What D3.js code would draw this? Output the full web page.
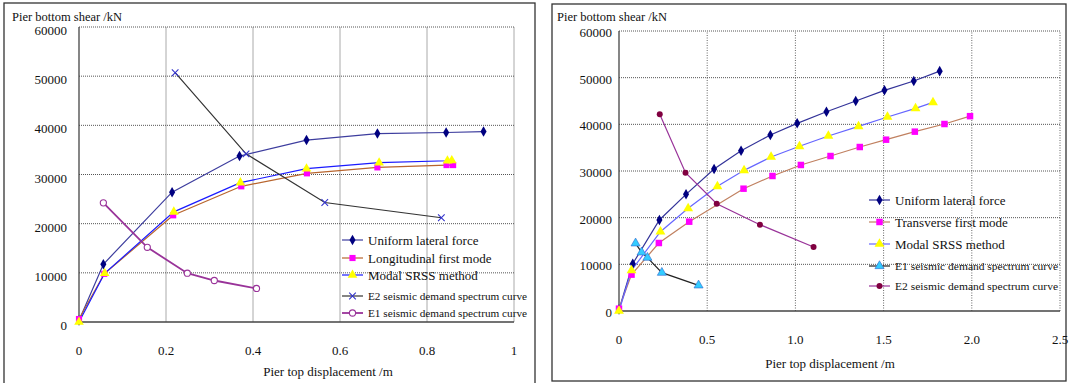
<!DOCTYPE html>
<html><head><meta charset="utf-8">
<script src="https://cdn.jsdelivr.net/npm/d3@7"></script>
<style>body{margin:0;background:#fff}svg{display:block}</style>
</head><body><svg id="c" width="1070" height="383" font-family="'Liberation Serif', 'Times New Roman', Times, serif"></svg>
<script>
// ---------- DATA: left chart (longitudinal) ----------
const leftXTicks = [0, 0.2, 0.4, 0.6, 0.8, 1];
const leftXTickLabels = ["0", "0.2", "0.4", "0.6", "0.8", "1"];
const yTicks = [0, 10000, 20000, 30000, 40000, 50000, 60000];
const yTickLabels = ["0", "10000", "20000", "30000", "40000", "50000", "60000"];

const L_uniformX = [0, 0.056, 0.214, 0.369, 0.523, 0.686, 0.844, 0.930];
const L_uniformY = [300, 11750, 26400, 33750, 37000, 38330, 38540, 38740];
const L_longX = [0, 0.058, 0.2165, 0.373, 0.524, 0.686, 0.845, 0.860];
const L_longY = [600, 9800, 21700, 27600, 30240, 31450, 31920, 31920];
const L_srssX = [0, 0.059, 0.218, 0.371, 0.523, 0.690, 0.847, 0.857];
const L_srssY = [0, 9900, 22400, 28350, 31180, 32400, 32800, 32850];
const L_e2X = [0.221, 0.384, 0.565, 0.833];
const L_e2Y = [50700, 34200, 24300, 21200];
const L_e1X = [0.056, 0.157, 0.249, 0.311, 0.408];
const L_e1Y = [24230, 15190, 9920, 8440, 6820];

// ---------- DATA: right chart (transverse) ----------
const rightXTicks = [0, 0.5, 1.0, 1.5, 2.0, 2.5];
const rightXTickLabels = ["0", "0.5", "1.0", "1.5", "2.0", "2.5"];

const R_uniformX = [0, 0.078, 0.229, 0.380, 0.539, 0.692, 0.858, 1.010, 1.176, 1.342, 1.505, 1.671, 1.818];
const R_uniformY = [300, 10140, 19500, 25000, 30430, 34360, 37710, 40210, 42710, 45000, 47290, 49290, 51400];
const R_transX = [0, 0.071, 0.226, 0.398, 0.706, 0.870, 1.031, 1.199, 1.365, 1.514, 1.677, 1.845, 1.990];
const R_transY = [500, 7790, 14570, 19140, 26210, 28930, 31290, 33210, 35140, 36710, 38430, 40070, 41750];
const R_srssX = [0, 0.071, 0.235, 0.392, 0.558, 0.709, 0.862, 1.023, 1.187, 1.358, 1.522, 1.681, 1.780];
const R_srssY = [0, 8710, 17000, 22000, 26710, 30140, 33000, 35290, 37500, 39570, 41570, 43430, 44710];
const R_e1X = [0.094, 0.128, 0.161, 0.243, 0.451];
const R_e1Y = [14500, 12570, 11430, 8210, 5500];
const R_e2X = [0.231, 0.377, 0.554, 0.799, 1.103];
const R_e2Y = [42140, 29640, 23000, 18500, 13710];

const leftNames = ["Uniform lateral force", "Longitudinal first mode", "Modal SRSS method", "E2 seismic demand spectrum curve", "E1 seismic demand spectrum curve"];
const rightNames = ["Uniform lateral force", "Transverse first mode", "Modal SRSS method", "E1 seismic demand spectrum curve", "E2 seismic demand spectrum curve"];
const yTitle = "Pier bottom shear /kN";
const xTitle = "Pier top displacement /m";

// ---------- drawing ----------
const FONT = "'Liberation Serif', 'Times New Roman', Times, serif";
const svg = d3.select("#c");

function zip(xs, ys) { return xs.map((x, i) => [x, ys[i]]); }

function txt(g) { return g.append("text").attr("font-family", FONT).attr("fill", "#111"); }

function panel(cfg) {
  const g = svg.append("g");
  g.append("rect").attr("x", cfg.frame[0]).attr("y", cfg.frame[1])
    .attr("width", cfg.frame[2]).attr("height", cfg.frame[3])
    .attr("fill", "#fff").attr("stroke", "#333").attr("stroke-width", 1.3);
  const x = d3.scaleLinear().domain(cfg.xDomain).range([cfg.px0, cfg.px1]);
  const y = d3.scaleLinear().domain([0, 60000]).range([cfg.py0, cfg.py1]);

  g.append("g").selectAll("line").data(cfg.xTicks.slice(1)).join("line")
    .attr("x1", d => x(d)).attr("x2", d => x(d)).attr("y1", cfg.py0).attr("y2", cfg.py1)
    .attr("stroke", cfg.vGridColor).attr("stroke-width", 1)
    .attr("stroke-dasharray", cfg.vGridDash);
  g.append("g").selectAll("line").data(yTicks.slice(1)).join("line")
    .attr("x1", cfg.px0).attr("x2", cfg.px1).attr("y1", d => y(d)).attr("y2", d => y(d))
    .attr("stroke", "#555").attr("stroke-width", 1).attr("stroke-dasharray", "1,1");
  g.append("line").attr("x1", cfg.px0).attr("x2", cfg.px0).attr("y1", cfg.py0).attr("y2", cfg.py1)
    .attr("stroke", "#444").attr("stroke-width", 1.3);
  g.append("line").attr("x1", cfg.px0).attr("x2", cfg.px1).attr("y1", cfg.py0).attr("y2", cfg.py0)
    .attr("stroke", "#444").attr("stroke-width", 1.3);

  yTicks.forEach((d, i) => {
    txt(g).attr("x", cfg.yLabelX).attr("y", y(d) + cfg.yLabelDy)
      .attr("text-anchor", "end").attr("font-size", cfg.tickFont).text(yTickLabels[i]);
  });
  cfg.xTicks.forEach((d, i) => {
    txt(g).attr("x", x(d)).attr("y", cfg.xLabelY)
      .attr("text-anchor", "middle").attr("font-size", cfg.tickFont).text(cfg.xTickLabels[i]);
  });

  txt(g).attr("x", cfg.yTitlePos[0]).attr("y", cfg.yTitlePos[1])
    .attr("font-size", 12.5).text(yTitle);
  txt(g).attr("x", cfg.xTitlePos[0]).attr("y", cfg.xTitlePos[1])
    .attr("text-anchor", "middle").attr("font-size", 13).text(xTitle);

  const line = d3.line().x(d => x(d[0])).y(d => y(d[1]));
  cfg.series.forEach(s => {
    g.append("path").datum(zip(s.xs, s.ys)).attr("d", line).attr("fill", "none")
      .attr("stroke", s.line).attr("stroke-width", s.lw || 1.2);
  });
  cfg.series.forEach(s => {
    const sym = d3.symbol().type(s.sym).size(s.size);
    g.append("g").selectAll("path").data(zip(s.xs, s.ys)).join("path")
      .attr("transform", d => `translate(${x(d[0])},${y(d[1])})`)
      .attr("d", sym)
      .attr("fill", s.fill).attr("stroke", s.stroke || "none").attr("stroke-width", s.sw || 1);
  });

  cfg.series.forEach((s, i) => {
    const ly = cfg.legendY[i];
    g.append("line").attr("x1", cfg.legendX).attr("x2", cfg.legendX + 21)
      .attr("y1", ly).attr("y2", ly).attr("stroke", s.line).attr("stroke-width", s.lw || 1.2);
    g.append("path").attr("transform", `translate(${cfg.legendX + 10.5},${ly})`)
      .attr("d", d3.symbol().type(s.sym).size(s.size))
      .attr("fill", s.fill).attr("stroke", s.stroke || "none").attr("stroke-width", s.sw || 1);
    const t = txt(g).attr("x", cfg.legendX + 26).attr("y", ly + (i < 3 ? 4.5 : 3.5))
      .attr("font-size", i < 3 ? 13 : 10.5).text(cfg.names[i]);
    if (i >= 3) t.attr("textLength", cfg.smallLen).attr("lengthAdjust", "spacingAndGlyphs");
  });
}

panel({
  frame: [4, 3, 531, 390],
  xDomain: [0, 1], px0: 79, px1: 514, py0: 322, py1: 27,
  xTicks: leftXTicks, xTickLabels: leftXTickLabels,
  vGridColor: "#aaa", vGridDash: null,
  yLabelX: 67, yLabelDy: 8, xLabelY: 355, tickFont: 13,
  yTitlePos: [12, 21], xTitlePos: [328, 376],
  legendX: 342, legendY: [240, 258, 275, 296, 313], smallLen: 159,
  names: leftNames,
  series: [
    { xs: L_uniformX, ys: L_uniformY, line: "#3d3d9e", sym: d3.symbolDiamond, size: 32, fill: "#000080" },
    { xs: L_longX, ys: L_longY, line: "#b8652e", sym: d3.symbolSquare, size: 38, fill: "#ff00ff" },
    { xs: L_srssX, ys: L_srssY, line: "#1a1aff", sym: d3.symbolTriangle, size: 40, fill: "#ffff00" },
    { xs: L_e2X, ys: L_e2Y, line: "#333333", sym: d3.symbolX, size: 30, fill: "none", stroke: "#3333cc", sw: 1.1 },
    { xs: L_e1X, ys: L_e1Y, line: "#993399", lw: 1.8, sym: d3.symbolCircle, size: 30, fill: "#fff", stroke: "#993399", sw: 1.1 }
  ]
});

panel({
  frame: [552, 4, 514, 377],
  xDomain: [0, 2.5], px0: 619, px1: 1060, py0: 311, py1: 31,
  xTicks: rightXTicks, xTickLabels: rightXTickLabels,
  vGridColor: "#666", vGridDash: "1,1.5",
  yLabelX: 612, yLabelDy: 6, xLabelY: 344, tickFont: 13,
  yTitlePos: [557, 21], xTitlePos: [830, 368],
  legendX: 869, legendY: [200, 222, 244, 266, 286], smallLen: 163,
  names: rightNames,
  series: [
    { xs: R_uniformX, ys: R_uniformY, line: "#333399", sym: d3.symbolDiamond, size: 32, fill: "#000080" },
    { xs: R_transX, ys: R_transY, line: "#c08060", sym: d3.symbolSquare, size: 42, fill: "#ff00ff" },
    { xs: R_srssX, ys: R_srssY, line: "#6666ff", sym: d3.symbolTriangle, size: 42, fill: "#ffff00" },
    { xs: R_e1X, ys: R_e1Y, line: "#222222", sym: d3.symbolTriangle, size: 36, fill: "#33ccff", stroke: "#3366cc", sw: 0.6 },
    { xs: R_e2X, ys: R_e2Y, line: "#993399", sym: d3.symbolCircle, size: 28, fill: "#800040" }
  ]
});
</script></body></html>
